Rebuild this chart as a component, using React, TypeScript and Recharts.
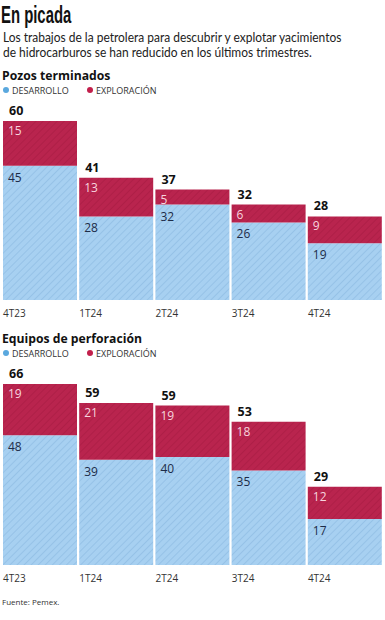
import { BarChart, Bar, XAxis, YAxis, LabelList } from 'recharts'

const trimestres = ['4T23', '1T24', '2T24', '3T24', '4T24']
const pozosDesarrollo = [45, 28, 32, 26, 19]
const pozosExploracion = [15, 13, 5, 6, 9]
const pozosTotal = [60, 41, 37, 32, 28]
const equiposDesarrollo = [48, 39, 40, 35, 17]
const equiposExploracion = [19, 21, 19, 18, 12]
const equiposTotal = [66, 59, 59, 53, 29]

const buildRows = (des: number[], exp: number[], tot: number[]) =>
  trimestres.map((t, i) => ({ name: t, desarrollo: des[i], exploracion: exp[i], total: tot[i] }))

const pozos = buildRows(pozosDesarrollo, pozosExploracion, pozosTotal)
const equipos = buildRows(equiposDesarrollo, equiposExploracion, equiposTotal)

const FONT = '"Open Sans", sans-serif'

const Tick = (props: any) => {
  const { x, y, payload } = props
  return (
    <text x={x - 37} y={y + 9} fontSize={10} fontFamily={FONT} fill="#333">
      {payload.value}
    </text>
  )
}

const segLabel = (fill: string, dy: number) => (props: any) => {
  const { x, y, value } = props
  return (
    <text x={x + 5} y={y + dy} fontSize={12} fontFamily={FONT} fill={fill}>
      {value}
    </text>
  )
}

const totalLabel = (props: any) => {
  const { x, y, value } = props
  return (
    <text x={x + 6} y={y - 6} fontSize={12.5} fontWeight={700} fontFamily={FONT} fill="#111">
      {value}
    </text>
  )
}

const Legend = () => (
  <div style={{ display: 'flex', alignItems: 'center', fontSize: 9, color: '#333', fontFamily: FONT, height: 12 }}>
    <span style={{ width: 6, height: 6, borderRadius: 3, background: '#5aa8de', marginLeft: 3, marginRight: 3 }} />
    <span style={{ width: 75 }}>DESARROLLO</span>
    <span style={{ width: 6, height: 6, borderRadius: 3, background: '#c21f4b', marginRight: 3 }} />
    <span>EXPLORACIÓN</span>
  </div>
)

const Stack = ({ data, height, top, id }: { data: any[]; height: number; top: number; id: string }) => {
  const max = Math.max(...data.map((d) => d.desarrollo + d.exploracion))
  return (
    <BarChart
      width={385}
      height={height}
      data={data}
      margin={{ top, right: 2, left: 2, bottom: 0 }}
      barCategoryGap={1}
      style={{ overflow: 'visible' }}
    >
      <defs>
        <pattern id={id + 'b'} width={5} height={5} patternUnits="userSpaceOnUse" patternTransform="rotate(45)">
          <rect width={5} height={5} fill="#a7d0f1" />
          <line x1={0} y1={0} x2={0} y2={5} stroke="#8fbde3" strokeWidth={1.4} />
        </pattern>
        <pattern id={id + 'r'} width={5} height={5} patternUnits="userSpaceOnUse" patternTransform="rotate(45)">
          <rect width={5} height={5} fill="#b9244e" />
          <line x1={0} y1={0} x2={0} y2={5} stroke="#a91c44" strokeWidth={1.4} />
        </pattern>
      </defs>
      <XAxis dataKey="name" axisLine={false} tickLine={false} height={28} tick={<Tick />} interval={0} />
      <YAxis hide domain={[0, max]} allowDataOverflow />
      <Bar dataKey="desarrollo" stackId="a" fill={`url(#${id}b)`} isAnimationActive={false}>
        <LabelList dataKey="desarrollo" content={segLabel('#1d2c48', 16)} />
      </Bar>
      <Bar dataKey="exploracion" stackId="a" fill={`url(#${id}r)`} isAnimationActive={false}>
        <LabelList dataKey="exploracion" content={segLabel('#f7d4de', 14)} />
        <LabelList dataKey="total" content={totalLabel} />
      </Bar>
    </BarChart>
  )
}

export default function App() {
  return (
    <div style={{ position: 'absolute', left: 0, top: 0, width: 385, height: 620, background: '#fff', fontFamily: FONT }}>
      <div
        style={{
          position: 'absolute',
          left: 1,
          top: 1,
          fontFamily: '"Liberation Sans Narrow", sans-serif',
          fontWeight: 700,
          fontSize: 24,
          color: '#111',
          transform: 'scaleX(0.62)',
          transformOrigin: 'left top',
          whiteSpace: 'nowrap',
        }}
      >
        En picada
      </div>
      <div
        style={{
          position: 'absolute',
          left: 3,
          top: 30,
          fontFamily: 'Lato, sans-serif',
          fontSize: 12.6,
          lineHeight: '15px',
          color: '#222',
          whiteSpace: 'nowrap',
          transform: 'scaleX(0.95)',
          transformOrigin: 'left top',
        }}
      >
        Los trabajos de la petrolera para descubrir y explotar yacimientos
        <br />
        de hidrocarburos se han reducido en los últimos trimestres.
      </div>
      <div style={{ position: 'absolute', left: 2, top: 67, fontSize: 12.2, fontWeight: 700, color: '#111' }}>Pozos terminados</div>
      <div style={{ position: 'absolute', left: 0, top: 84 }}>
        <Legend />
      </div>
      <div style={{ position: 'absolute', left: 0, top: 100 }}>
        <Stack data={pozos} height={228} top={21} id="p" />
      </div>
      <div style={{ position: 'absolute', left: 2, top: 330, fontSize: 12.2, fontWeight: 700, color: '#111' }}>Equipos de perforación</div>
      <div style={{ position: 'absolute', left: 0, top: 347 }}>
        <Legend />
      </div>
      <div style={{ position: 'absolute', left: 0, top: 362 }}>
        <Stack data={equipos} height={231} top={22} id="e" />
      </div>
      <div style={{ position: 'absolute', left: 2, top: 596, fontSize: 8, color: '#333' }}>Fuente: Pemex.</div>
    </div>
  )
}
